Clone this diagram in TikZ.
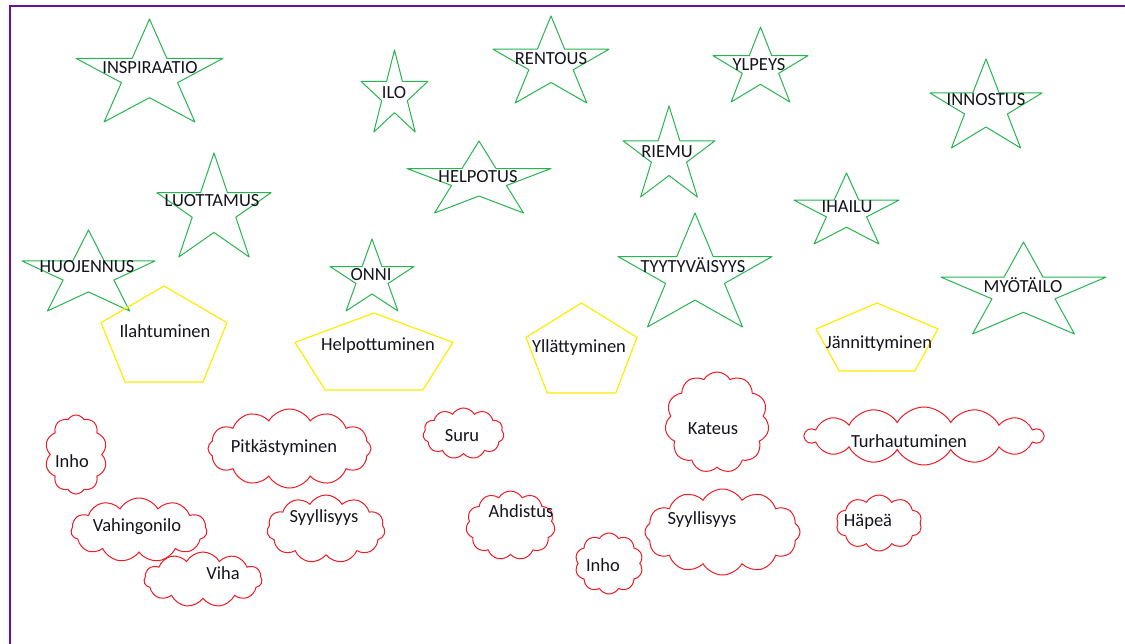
\documentclass[tikz,border=0pt]{standalone}
\usepackage{fontspec}
\setmainfont{Carlito}
\usetikzlibrary{shapes.symbols}

\definecolor{framepurple}{RGB}{102,16,160}
\definecolor{stargreen}{RGB}{40,180,80}
\definecolor{pentyellow}{RGB}{255,236,0}
\definecolor{cloudred}{RGB}{237,28,36}
\definecolor{labelink}{RGB}{20,20,30}

\tikzset{
  starline/.style={draw=stargreen, line width=1pt, line join=round},
  pentline/.style={draw=pentyellow, line width=1.2pt, line join=round},
  cloudbox/.style={cloud, draw=cloudred, fill=white, line width=1pt,
    cloud puffs=11, cloud puff arc=120, cloud ignores aspect, inner sep=0pt},
  word/.style={font=\fontsize{18.5}{22}\selectfont, text=labelink, inner sep=0pt, anchor=base},
}

% five-pointed star fitted into the box (x0,y0)-(x1,y1), y downwards
\newcommand\emostar[4]{%
  \pgfmathsetmacro\sw{#3-#1}\pgfmathsetmacro\sh{#4-#2}%
  \begin{scope}[shift={(#1,#2)}, xscale=\sw, yscale=\sh]
    \draw[starline] (0.5,0) -- (0.618,0.382) -- (1,0.382) -- (0.691,0.618)
      -- (0.809,1) -- (0.5,0.764) -- (0.191,1) -- (0.309,0.618)
      -- (0,0.382) -- (0.382,0.382) -- cycle;
  \end{scope}}

% pentagon fitted into the box (x0,y0)-(x1,y1)
\newcommand\emopenta[4]{%
  \pgfmathsetmacro\sw{#3-#1}\pgfmathsetmacro\sh{#4-#2}%
  \begin{scope}[shift={(#1,#2)}, xscale=\sw, yscale=\sh]
    \draw[pentline] (0.5,0) -- (1,0.382) -- (0.809,1) -- (0.191,1) -- (0,0.382) -- cycle;
  \end{scope}}

% cloud fitted into the box (x0,y0)-(x1,y1)
\newcommand\emocloud[6][11]{%
  \pgfmathsetmacro\cw{#4-#2}\pgfmathsetmacro\ch{#5-#3}%
  \pgfmathsetmacro\cx{(#2+#4)/2}\pgfmathsetmacro\cy{(#3+#5)/2}%
  \node[cloudbox, cloud puffs=#1, minimum width=\cw pt, minimum height=\ch pt] (#6) at (\cx,\cy) {};}

\begin{document}
\begin{tikzpicture}[x=1pt, y=-1pt]
\useasboundingbox (0,0) rectangle (1125,644);
\fill[white] (0,0) rectangle (1125,644);

% page frame
\draw[framepurple, line width=2pt] (9.5,644) -- (9.5,6) -- (1125,6);

% positive feelings: stars
\emostar{76}{19}{223}{122}
\node[word] (s-inspiraatio) at (150,74) {INSPIRAATIO};
\emostar{361}{50}{428}{132}
\node[word] (s-ilo) at (394,99) {ILO};
\emostar{493}{16}{609}{103}
\node[word] (s-rentous) at (551,65) {RENTOUS};
\emostar{713}{27}{808}{102}
\node[word] (s-ylpeys) at (759,71) {YLPEYS};
\emostar{930}{59}{1042}{148}
\node[word] (s-innostus) at (986,106) {INNOSTUS};
\emostar{407}{141}{551}{213}
\node[word] (s-helpotus) at (478,183) {HELPOTUS};
\emostar{623}{106}{715}{197}
\node[word] (s-riemu) at (667,158) {RIEMU};
\emostar{157}{153}{271}{257}
\node[word] (s-luottamus) at (212,207) {LUOTTAMUS};
\emostar{794}{173}{899}{244}
\node[word] (s-ihailu) at (847,213) {IHAILU};
\emostar{22}{230}{155}{311}
\node[word] (s-huojennus) at (87,273) {HUOJENNUS};
\emostar{330}{239}{414}{311}
\node[word] (s-onni) at (371,281) {ONNI};
\emostar{618}{213}{772}{327}
\node[word] (s-tyytyvaisyys) at (693,273) {TYYTYVÄISYYS};
\emostar{941}{242}{1106}{334}
\node[word] (s-myotailo) at (1023,293) {MYÖTÄILO};

% in-between feelings: pentagons
\emopenta{101}{286}{227}{382}
\node[word] (p-ilahtuminen) at (165,338) {Ilahtuminen};
\emopenta{295}{313}{453}{390}
\node[word] (p-helpottuminen) at (378,351) {Helpottuminen};
\emopenta{526}{303}{637}{393}
\node[word] (p-yllattyminen) at (579,353) {Yllättyminen};
\emopenta{816}{303}{938}{371}
\node[word] (p-jannittyminen) at (879,349) {Jännittyminen};

% negative feelings: clouds
\emocloud[10]{45}{415}{107}{494}{c-inho1}
\node[word] (w-inho1) at (72,467) {Inho};
\emocloud{71}{498}{207}{562}{c-vahingonilo}
\node[word] (w-vahingonilo) at (137,531) {Vahingonilo};
\emocloud{144}{552}{262}{607}{c-viha}
\node[word] (w-viha) at (223,579) {Viha};
\emocloud[12]{208}{409}{371}{488}{c-pitkastyminen}
\node[word] (w-pitkastyminen) at (284,452) {Pitkästyminen};
\emocloud{267}{495}{385}{563}{c-syyllisyys1}
\node[word] (w-syyllisyys1) at (324,522) {Syyllisyys};
\emocloud{423}{408}{504}{459}{c-suru}
\node[word] (w-suru) at (462,441) {Suru};
\emocloud{466}{491}{555}{560}{c-ahdistus}
\node[word] (w-ahdistus) at (521,517) {Ahdistus};
\emocloud[10]{575}{533}{643}{594}{c-inho2}
\node[word] (w-inho2) at (603,571) {Inho};
\emocloud[11]{665}{372}{769}{473}{c-kateus}
\node[word] (w-kateus) at (713,434) {Kateus};
\emocloud[12]{645}{489}{800}{575}{c-syyllisyys2}
\node[word] (w-syyllisyys2) at (702,524) {Syyllisyys};
\emocloud[14]{805}{407}{1043}{465}{c-turhautuminen}
\node[word] (w-turhautuminen) at (909,447) {Turhautuminen};
\emocloud[10]{836}{495}{922}{551}{c-hapea}
\node[word] (w-hapea) at (868,526) {Häpeä};
\end{tikzpicture}
\end{document}
